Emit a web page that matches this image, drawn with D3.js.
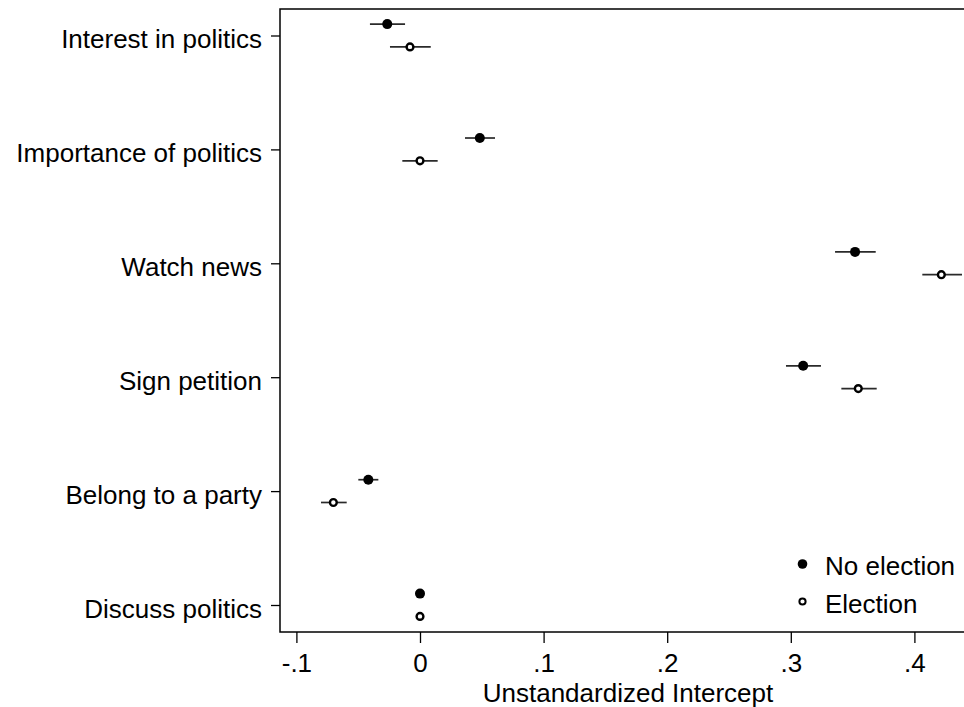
<!DOCTYPE html>
<html>
<head>
<meta charset="utf-8">
<script src="https://cdn.jsdelivr.net/npm/d3@7"></script>
<style>
  html, body { margin: 0; padding: 0; background: #fff; }
  svg { display: block; }
  text { font-family: "Liberation Sans", Arial, sans-serif; fill: #000; }
</style>
</head>
<body>
<svg id="chart" width="964" height="707"></svg>
<script>
// ---- data ----
const categories = ["Interest in politics", "Importance of politics", "Watch news",
                    "Sign petition", "Belong to a party", "Discuss politics"];
const seriesNames = ["No election", "Election"];
const noElection      = [-0.0265, 0.0484, 0.352, 0.310, -0.0418, 0.000];
const noElectionLow   = [-0.0405, 0.0364, 0.3358, 0.2961, -0.0499, 0.000];
const noElectionHigh  = [-0.0121, 0.0607, 0.3687, 0.3244, -0.0337, 0.000];
const election        = [-0.0081, 0.000, 0.4218, 0.3546, -0.0701, 0.000];
const electionLow     = [-0.0243, -0.0143, 0.4064, 0.3409, -0.0801, 0.000];
const electionHigh    = [0.0087, 0.0143, 0.4385, 0.3695, -0.0593, 0.000];
const xTicks = [-0.1, 0, 0.1, 0.2, 0.3, 0.4];
const xTickLabels = ["-.1", "0", ".1", ".2", ".3", ".4"];
const xTitle = "Unstandardized Intercept";

// ---- layout ----
const frame = { left: 280, top: 9, right: 967, bottom: 632 };
const svg = d3.select("#chart");

const x = d3.scaleLinear().domain([-0.1, 0.4]).range([296.4, 914.4]);
const y = d3.scaleLinear().domain([0, 5]).range([35.5, 605]);
const offset = 0.1; // category-unit offset of the two series

const FS = 26;

// frame
svg.append("rect")
  .attr("x", frame.left).attr("y", frame.top)
  .attr("width", frame.right - frame.left).attr("height", frame.bottom - frame.top)
  .attr("fill", "none").attr("stroke", "#000").attr("stroke-width", 1.5);

// x axis
const xAxis = d3.axisBottom(x)
  .tickValues(xTicks)
  .tickFormat((d, i) => xTickLabels[i])
  .tickSize(11).tickPadding(5).tickSizeOuter(0);
const gx = svg.append("g").attr("transform", `translate(0,${frame.bottom})`).call(xAxis);
gx.select(".domain").remove();
gx.selectAll(".tick line").attr("stroke", "#000").attr("stroke-width", 1.3);
gx.selectAll(".tick text").attr("font-size", FS).attr("font-family", null)
  .attr("dy", null).attr("y", 39.5);

svg.append("text")
  .attr("x", 628).attr("y", 701.5)
  .attr("text-anchor", "middle").attr("font-size", FS)
  .text(xTitle);

// y axis
const yAxis = d3.axisLeft(y)
  .tickValues(d3.range(categories.length))
  .tickFormat((d, i) => categories[i])
  .tickSize(9).tickPadding(9).tickSizeOuter(0);
const gy = svg.append("g").attr("transform", `translate(${frame.left},0)`).call(yAxis);
gy.select(".domain").remove();
gy.selectAll(".tick line").attr("stroke", "#000").attr("stroke-width", 1.3);
gy.selectAll(".tick text").attr("font-size", FS).attr("font-family", null)
  .attr("dy", null).attr("y", 12);

// data rows
const rows = categories.map((c, i) => ({
  i,
  ne: noElection[i], neL: noElectionLow[i], neH: noElectionHigh[i],
  el: election[i], elL: electionLow[i], elH: electionHigh[i]
}));

const g = svg.append("g");
// error bars
g.selectAll("line.ne").data(rows.filter(d => d.neH > d.neL)).join("line")
  .attr("x1", d => x(d.neL)).attr("x2", d => x(d.neH))
  .attr("y1", d => y(d.i - offset)).attr("y2", d => y(d.i - offset))
  .attr("stroke", "#2a2a2a").attr("stroke-width", 1.7);
g.selectAll("line.el").data(rows.filter(d => d.elH > d.elL)).join("line")
  .attr("x1", d => x(d.elL)).attr("x2", d => x(d.elH))
  .attr("y1", d => y(d.i + offset)).attr("y2", d => y(d.i + offset))
  .attr("stroke", "#2a2a2a").attr("stroke-width", 1.7);
// markers
g.selectAll("circle.ne").data(rows).join("circle")
  .attr("cx", d => x(d.ne)).attr("cy", d => y(d.i - offset))
  .attr("r", 5).attr("fill", "#000");
g.selectAll("circle.el").data(rows).join("circle")
  .attr("cx", d => x(d.el)).attr("cy", d => y(d.i + offset))
  .attr("r", 3.4).attr("fill", "#fff").attr("stroke", "#000").attr("stroke-width", 2.4);

// legend
const legend = svg.append("g");
const legendItems = [
  { name: seriesNames[0], cy: 564, filled: true },
  { name: seriesNames[1], cy: 601.5, filled: false }
];
legendItems.forEach(it => {
  const c = legend.append("circle").attr("cx", 802.5).attr("cy", it.cy);
  if (it.filled) c.attr("r", 4.8).attr("fill", "#000");
  else c.attr("r", 3.1).attr("fill", "#fff").attr("stroke", "#000").attr("stroke-width", 2);
  legend.append("text").attr("x", 825).attr("y", it.cy + 11)
    .attr("font-size", FS).text(it.name);
});
</script>
</body>
</html>
